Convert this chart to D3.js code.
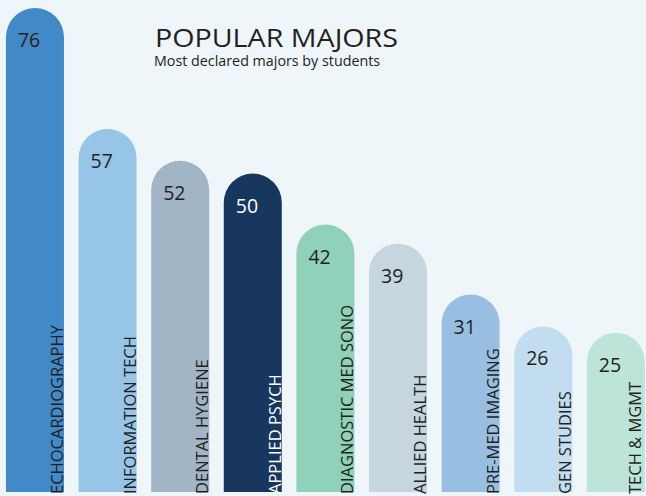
<!DOCTYPE html>
<html>
<head>
<meta charset="utf-8">
<script src="https://cdn.jsdelivr.net/npm/d3@7"></script>
<style>
  html, body { margin: 0; padding: 0; background: #eef6fa; }
  svg { display: block; font-family: "Open Sans", sans-serif; }
</style>
</head>
<body>
<div id="chart"></div>
<script>
// data
const majors = ["ECHOCARDIOGRAPHY", "INFORMATION TECH", "DENTAL HYGIENE", "APPLIED PSYCH",
  "DIAGNOSTIC MED SONO", "ALLIED HEALTH", "PRE-MED IMAGING", "GEN STUDIES", "TECH & MGMT"];
const counts = [76, 57, 52, 50, 42, 39, 31, 26, 25];
const barColors = ["#4289c8", "#97c5e8", "#a2b5c6", "#17375f", "#8fd1b9",
  "#c6d6df", "#98bfe2", "#c2ddf0", "#bde4d8"];

const width = 646, height = 496;
const baseY = 492;

const svg = d3.select("#chart").append("svg")
  .attr("width", width)
  .attr("height", height);

svg.append("rect")
  .attr("width", width)
  .attr("height", height)
  .attr("fill", "#eef6fa");

const x = d3.scaleBand()
  .domain(majors)
  .range([-1.3, 652.1])
  .paddingInner(0.201)
  .paddingOuter(0.1);

const y = d3.scaleLinear()
  .domain([0, 76])
  .range([baseY, 8]);

const bw = x.bandwidth();
const r = bw / 2;

// bars with round tops
function barPath(d, i) {
  const x0 = x(majors[i]);
  const top = y(d);
  return `M${x0},${baseY}V${top + r}A${r},${r} 0 0 1 ${x0 + bw},${top + r}V${baseY}Z`;
}

svg.append("g").selectAll("path")
  .data(counts)
  .enter()
  .append("path")
  .attr("d", barPath)
  .attr("fill", (d, i) => barColors[i]);

// value labels
svg.append("g").selectAll("text")
  .data(counts)
  .enter()
  .append("text")
  .attr("x", (d, i) => x(majors[i]) + 12)
  .attr("y", d => y(d) + 39)
  .attr("font-size", 19.5)
  .attr("fill", (d, i) => i === 3 ? "#ffffff" : "#231f20")
  .text(d => d);

// category labels, rotated (keep the last one inside the canvas)
svg.append("g").selectAll("text")
  .data(majors)
  .enter()
  .append("text")
  .attr("transform", d => `translate(${Math.min(x(d) + bw - 1, width - 4.6)},${baseY + 2}) rotate(-90)`)
  .attr("font-size", 16.5)
  .attr("fill", (d, i) => i === 3 ? "#ffffff" : "#231f20")
  .text(d => d);

// title
svg.append("text")
  .attr("x", 155)
  .attr("y", 47)
  .attr("font-size", 25)
  .attr("textLength", 243)
  .attr("lengthAdjust", "spacingAndGlyphs")
  .attr("fill", "#231f20")
  .text("POPULAR MAJORS");

svg.append("text")
  .attr("x", 154)
  .attr("y", 65.5)
  .attr("font-size", 14.3)
  .attr("fill", "#231f20")
  .text("Most declared majors by students");
</script>
</body>
</html>
